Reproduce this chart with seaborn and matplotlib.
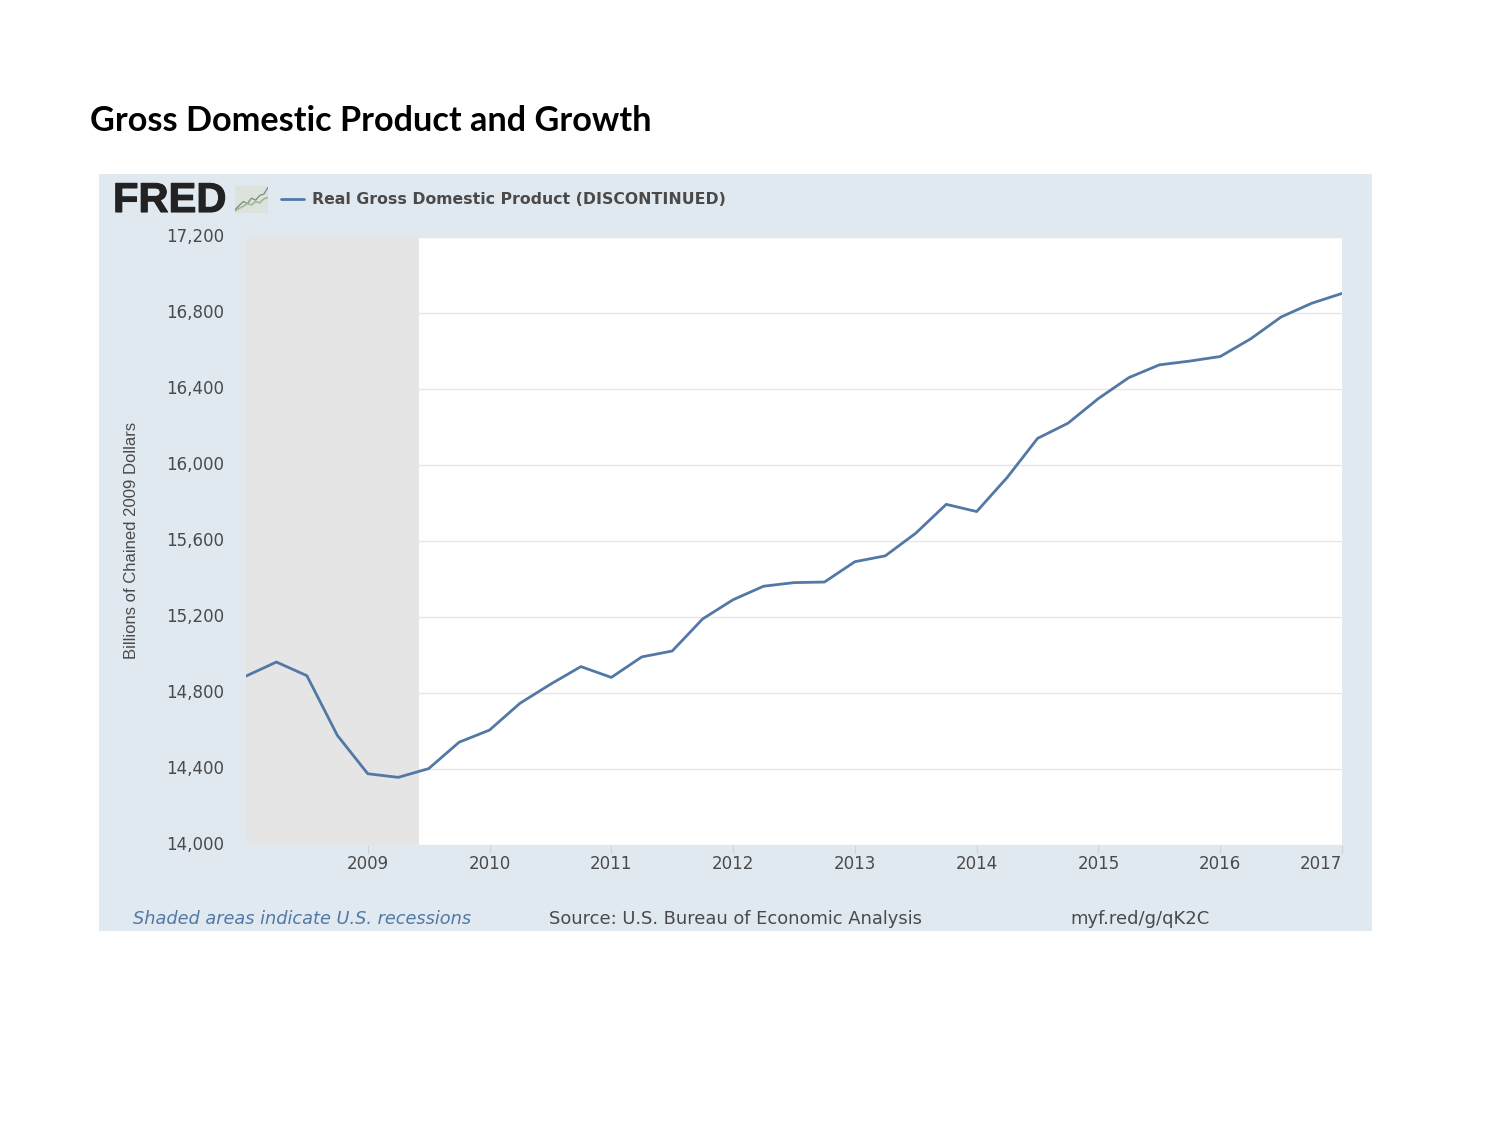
import matplotlib
matplotlib.use("Agg")
import matplotlib.pyplot as plt
import matplotlib.patheffects as pe
import seaborn as sns
import pandas as pd

# quarterly real GDP
quarters = [2008 + i * 0.25 for i in range(37)]
gdp = [14889, 14963, 14891, 14577, 14375, 14356, 14402, 14541, 14605, 14746,
       14846, 14939, 14882, 14990, 15021, 15190, 15291, 15362, 15381, 15384,
       15491, 15522, 15641, 15793, 15755, 15934, 16140, 16220, 16350, 16460,
       16527, 16547, 16571, 16664, 16779, 16851, 16903]
year_ticks = [2009, 2010, 2011, 2012, 2013, 2014, 2015, 2016, 2017]
gdp_ticks = [14000, 14400, 14800, 15200, 15600, 16000, 16400, 16800, 17200]
recession = [2008.0, 2009.42]

# little chart icon next to the FRED logo
icon_x = [0, 1, 2, 3, 4, 5, 6, 7, 8]
icon_a = [1.0, 2.2, 3.4, 2.8, 4.4, 3.8, 5.2, 5.6, 7.6]
icon_b = [0.6, 1.4, 2.0, 2.8, 2.4, 3.4, 3.0, 4.2, 4.6]

df = pd.DataFrame({"date": quarters, "gdp": gdp})

sns.set_theme(style="white")
plt.rcParams["font.family"] = ["DejaVu Sans"]

fig = plt.figure(figsize=(15, 11.25), dpi=100)
W, H = 1500, 1125

# the pale blue FRED panel behind the plot
panel = fig.add_axes([99 / W, 1 - 931 / H, 1273 / W, 757 / H])
panel.set_facecolor("#e1e9f0")
panel.set_xticks([])
panel.set_yticks([])
for s in panel.spines.values():
    s.set_visible(False)

ax = fig.add_axes([246 / W, 1 - 845 / H, 1096 / W, 608 / H])
ax.set_facecolor("white")
ax.axvspan(recession[0], recession[1], color="#e5e5e5", lw=0, zorder=0)
sns.lineplot(data=df, x="date", y="gdp", color="#5278a6", lw=2, ax=ax, zorder=3)
ax.set_xlim(2008, 2017)
ax.set_ylim(14000, 17200)
ax.set_yticks(gdp_ticks)
ax.set_yticklabels([f"{v:,}" for v in gdp_ticks], fontsize=12, color="#4a4a4a", va="center")
ax.set_xticks(year_ticks)
ax.set_xticklabels(year_ticks, fontsize=12, color="#4a4a4a")
ax.get_xticklabels()[-1].set_ha("right")
ax.set_xlabel("")
ax.set_ylabel("")
ax.grid(axis="y", color="#e6e6e6", lw=1)
ax.set_axisbelow(True)
ax.tick_params(axis="y", length=0, pad=16)
ax.tick_params(axis="x", length=6, width=0.8, color="#cdd3d9", pad=1.5, bottom=True)
for s in ax.spines.values():
    s.set_visible(False)

icon = fig.add_axes([235 / W, 1 - 213 / H, 33 / W, 27 / H])
icon.set_facecolor("#dbe3dc")
icon.plot(icon_x, icon_a, color="#7d8a80", lw=0.9)
icon.plot(icon_x, icon_b, color="#9dbb8c", lw=1.2)
icon.set_xlim(0, 8)
icon.set_ylim(0, 8)
icon.set_xticks([])
icon.set_yticks([])
for s in icon.spines.values():
    s.set_visible(False)

fig.text(90 / W, 1 - 121 / H, "Gross Domestic Product and Growth", fontsize=24.7,
         fontweight="bold", family="Lato", va="center", color="black")
fred = fig.text(113 / W, 1 - 201 / H, "FRED", fontsize=30, fontweight="bold",
                family="Liberation Sans", va="center", color="#222222")
fred.set_path_effects([pe.withStroke(linewidth=0.8, foreground="#222222")])
fig.add_artist(plt.Line2D([281 / W, 304 / W], [1 - 199 / H, 1 - 199 / H], color="#5278a6", lw=2))
fig.text(312 / W, 1 - 199 / H, "Real Gross Domestic Product (DISCONTINUED)", fontsize=11.3,
         fontweight="bold", va="center", color="#4a4a4a")
fig.text(131 / W, 1 - 540 / H, "Billions of Chained 2009 Dollars", fontsize=12, rotation=90,
         family="Liberation Sans", ha="center", va="center", color="#4a4a4a")
fig.text(133 / W, 1 - 919 / H, "Shaded areas indicate U.S. recessions", fontsize=12.8,
         style="italic", va="center", color="#5278a6")
fig.text(549 / W, 1 - 919 / H, "Source: U.S. Bureau of Economic Analysis", fontsize=12.9,
         va="center", color="#4a4a4a")
fig.text(1070 / W, 1 - 919 / H, "myf.red/g/qK2C", fontsize=13, va="center", color="#4a4a4a")

fig.savefig("out.png", dpi=100)
